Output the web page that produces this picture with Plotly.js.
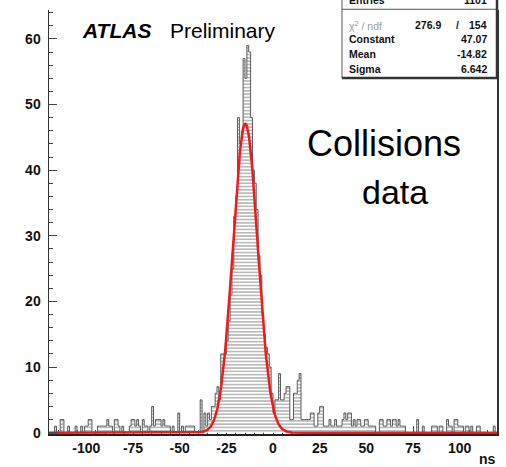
<!DOCTYPE html>
<html><head><meta charset="utf-8">
<script src="https://cdn.plot.ly/plotly-3.0.1.min.js"></script>
<style>html,body{margin:0;padding:0;background:#fff;}#chart{width:506px;height:467px;}</style>
</head><body><div id="chart"></div>
<script>
// ---- data ----
const binLow = -120;      // ns, lower edge of first bin
const binWidth = 1;       // ns
const counts = [
  // -120 .. -111
  0,0,0,1,0,0,2,2,0,0,
  // -110 .. -101
  1,0,0,0,1,0,0,1,0,1,
  // -100 .. -91
  1,2,2,0,0,0,1,1,1,1,
  // -90 .. -81
  1,2,1,1,0,2,2,1,0,1,
  // -80 .. -71
  0,0,0,1,2,2,1,2,1,0,
  // -70 .. -61
  2,1,1,0,1,4,1,2,2,2,
  // -60 .. -51
  1,2,1,1,1,0,1,0,0,3,
  // -50 .. -41
  0,1,0,1,1,1,1,1,0,0,
  // -40 .. -31
  0,5,0,3,1,3,2,4,4,6,
  // -30 .. -21
  7,5,12,12,12,14,17,21,25,33,
  // -20 .. -11
  36,48,44,46,57,54,59,58,48,40,
  // -10 .. -1
  38,34,27,24,18,15,13,12,10,6,
  // 0 .. 9
  3,5,5,9,5,5,6,7,7,2,
  // 10 .. 19
  2,6,6,8,9,2,2,2,2,2,
  // 20 .. 29
  3,3,1,1,3,4,4,1,1,1,
  // 30 .. 39
  2,1,1,2,1,1,1,2,3,2,
  // 40 .. 49
  3,3,1,2,1,2,2,1,1,2,
  // 50 .. 59
  2,1,1,1,1,0,0,2,2,1,
  // 60 .. 69
  1,2,2,1,2,2,1,2,1,1,
  // 70 .. 79
  1,0,0,0,0,0,0,2,0,0,
  // 80 .. 89
  1,0,0,0,0,1,1,1,0,1,
  // 90 .. 99
  1,0,0,2,1,1,0,2,2,1,
  // 100 .. 109
  1,1,0,1,1,0,1,0,0,1,
  // 110 .. 119
  1,0,0,0,0,0,0,0,1,0
];
const fitNames  = ['Constant', 'Mean', 'Sigma'];
const fitValues = [47.07, -14.82, 6.642];
const fitLabels = ['47.07', '-14.82', '6.642'];
const chi2Text = '276.9';
const ndfText = '154';
const entriesText = '1101';
const xTickVals = [-100, -75, -50, -25, 0, 25, 50, 75, 100];
const xTickText = ['-100', '-75', '-50', '-25', '0', '25', '50', '75', '100'];
const yTickVals = [0, 10, 20, 30, 40, 50, 60];
const yTickText = ['0', '10', '20', '30', '40', '50', '60'];
const xRange = [-120, 120];

// ---- build traces ----
const edges = counts.map((c, i) => binLow + i * binWidth);
edges.push(binLow + counts.length * binWidth);
const stepY = counts.concat([counts[counts.length - 1]]);

const [A, mu, sg] = fitValues;
const fitX = [], fitY = [];
for (let x = xRange[0]; x <= xRange[1] + 1e-9; x += 0.25) {
  fitX.push(x);
  fitY.push(A * Math.exp(-0.5 * Math.pow((x - mu) / sg, 2)));
}

const FONT = 'Liberation Sans, Arial, Helvetica, sans-serif';

const hist = {
  type: 'scatter', mode: 'lines', x: edges, y: stepY,
  line: {shape: 'hv', color: '#5a5a5a', width: 1},
  fill: 'tozeroy', fillcolor: 'rgba(0,0,0,0)',
  fillpattern: {shape: '-', size: 3.3, solidity: 0.3, fgcolor: '#8c8c8c', bgcolor: '#ffffff'},
  hoverinfo: 'skip'
};
const fit = {
  type: 'scatter', mode: 'lines', x: fitX, y: fitY,
  line: {color: '#ee1b1b', width: 2.5}, hoverinfo: 'skip'
};

// ---- stats box ----
const bx0 = 0.654, bx1 = 1.0, by0 = 0.8396, by1 = 1.12;
const labX = 0.6652, valX = 0.9821;
const rowY = [0.9309, 0.8962, 0.8601];
const shapes = [
  {type: 'rect', xref: 'paper', yref: 'paper', x0: bx0, x1: bx1, y0: by0, y1: by1,
   line: {color: '#555', width: 1}, fillcolor: '#fff', layer: 'above'},
  {type: 'line', xref: 'paper', yref: 'paper', x0: bx0, x1: bx1, y0: 1.0017, y1: 1.0017,
   line: {color: '#555', width: 1}, layer: 'above'},
  {type: 'line', xref: 'paper', yref: 'paper', x0: bx1, x1: bx1, y0: by0, y1: by1,
   line: {color: '#333', width: 2.5}, layer: 'above'},
  {type: 'line', xref: 'paper', yref: 'paper', x0: bx0, x1: bx1, y0: by0, y1: by0,
   line: {color: '#333', width: 2.5}, layer: 'above'}
];
const sfont = {family: FONT, size: 10.5, color: '#111'};
const annotations = [
  {text: '<b><i>ATLAS</i></b>', x: 0.0692, y: 0.9528, xref: 'paper', yref: 'paper',
   xanchor: 'left', yanchor: 'middle', showarrow: false, font: {family: FONT, size: 21, color: '#000'}},
  {text: 'Preliminary', x: 0.2656, y: 0.9528, xref: 'paper', yref: 'paper',
   xanchor: 'left', yanchor: 'middle', showarrow: false, font: {family: FONT, size: 21, color: '#000'}},
  {text: 'Collisions', x: 0.748, y: 0.684, xref: 'paper', yref: 'paper',
   xanchor: 'center', yanchor: 'middle', showarrow: false, font: {family: FONT, size: 36, color: '#000'}},
  {text: 'data', x: 0.772, y: 0.571, xref: 'paper', yref: 'paper',
   xanchor: 'center', yanchor: 'middle', showarrow: false, font: {family: FONT, size: 34, color: '#000'}},
  {text: '<b>ns</b>', x: 0.9777, y: -0.06, xref: 'paper', yref: 'paper',
   xanchor: 'center', yanchor: 'middle', showarrow: false, font: {family: FONT, size: 14, color: '#111'}},
  // stats
  {text: '<b>Entries</b>', x: labX, y: 1.0236, xref: 'paper', yref: 'paper', xanchor: 'left', yanchor: 'middle', showarrow: false, font: sfont},
  {text: '<b>' + entriesText + '</b>', x: valX, y: 1.0236, xref: 'paper', yref: 'paper', xanchor: 'right', yanchor: 'middle', showarrow: false, font: sfont},
  {text: '\u03c7<sup>2</sup> / ndf', x: labX, y: 0.9646, xref: 'paper', yref: 'paper', xanchor: 'left', yanchor: 'middle', showarrow: false, font: {family: FONT, size: 10.5, color: '#999'}},
  {text: '<b>' + chi2Text + '</b>', x: 0.8795, y: 0.9646, xref: 'paper', yref: 'paper', xanchor: 'right', yanchor: 'middle', showarrow: false, font: sfont},
  {text: '<b>/</b>', x: 0.9129, y: 0.9646, xref: 'paper', yref: 'paper', xanchor: 'center', yanchor: 'middle', showarrow: false, font: sfont},
  {text: '<b>' + ndfText + '</b>', x: valX, y: 0.9646, xref: 'paper', yref: 'paper', xanchor: 'right', yanchor: 'middle', showarrow: false, font: sfont}
];
fitNames.forEach((n, i) => {
  annotations.push({text: '<b>' + n + '</b>', x: labX, y: rowY[i], xref: 'paper', yref: 'paper', xanchor: 'left', yanchor: 'middle', showarrow: false, font: sfont});
  annotations.push({text: '<b>' + fitLabels[i] + '</b>', x: valX, y: rowY[i], xref: 'paper', yref: 'paper', xanchor: 'right', yanchor: 'middle', showarrow: false, font: sfont});
});

const tickfont = {family: FONT, size: 14, color: '#111', weight: 700};
const layout = {
  width: 506, height: 467,
  margin: {l: 49, r: 9, t: 10, b: 33, pad: 0},
  paper_bgcolor: '#fff', plot_bgcolor: '#fff',
  showlegend: false,
  xaxis: {
    range: xRange, tickmode: 'array', tickvals: xTickVals, ticktext: xTickText,
    ticks: 'inside', ticklen: 8, tickwidth: 1, tickcolor: '#444',
    minor: {dtick: 5, tick0: 0, ticks: 'inside', ticklen: 4, tickcolor: '#444', tickwidth: 1},
    showline: true, linewidth: 2, linecolor: '#222', mirror: false,
    showgrid: false, zeroline: false, tickfont: tickfont, layer: 'below traces', fixedrange: true
  },
  yaxis: {
    range: [-0.2, 64.4], tickmode: 'array', tickvals: yTickVals, ticktext: yTickText,
    ticks: 'inside', ticklen: 8, tickwidth: 1, tickcolor: '#444',
    minor: {dtick: 2, tick0: 0, ticks: 'inside', ticklen: 4, tickcolor: '#444', tickwidth: 1},
    showline: true, linewidth: 1.5, linecolor: '#333', mirror: true,
    showgrid: false, zeroline: false, tickfont: tickfont, ticklabelstandoff: 4, fixedrange: true
  },
  shapes: shapes,
  annotations: annotations
};
Plotly.newPlot('chart', [hist, fit], layout, {displayModeBar: false, staticPlot: true});
</script>
</body></html>
